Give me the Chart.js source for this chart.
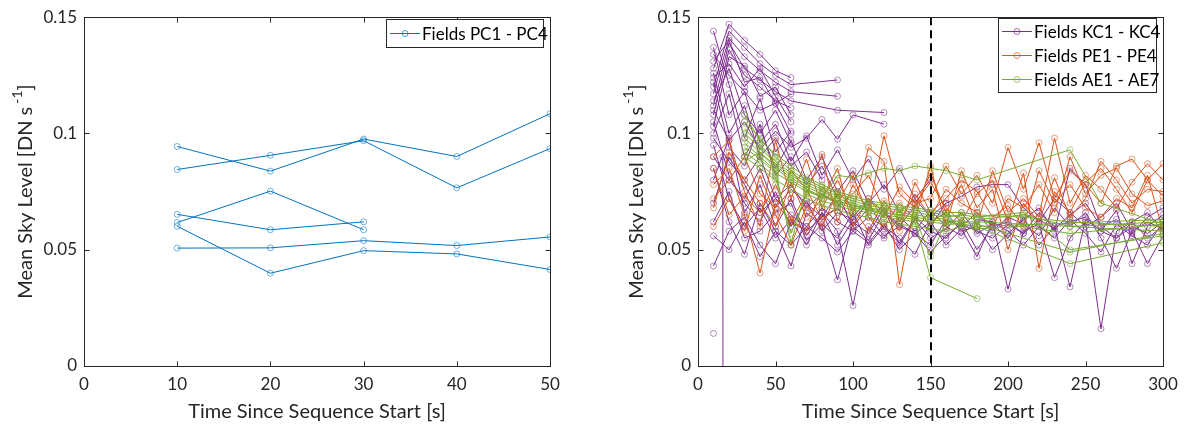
<!DOCTYPE html>
<html>
<head>
<meta charset="utf-8">
<script src="https://cdn.jsdelivr.net/npm/chart.js@4/dist/chart.umd.min.js"></script>
<style>
  html, body { margin: 0; padding: 0; background: #fff; }
  #wrap { position: relative; width: 1186px; height: 427px; }
  .pane { position: absolute; top: 0; width: 593px; height: 427px; }
</style>
</head>
<body>
<div id="wrap">
  <div class="pane" style="left:0"><canvas id="leftChart" width="593" height="427"></canvas></div>
  <div class="pane" style="left:593px"><canvas id="rightChart" width="593" height="427"></canvas></div>
</div>
<script>
const _ = null;

// ---- left panel: fields PC1 - PC4
const pcTimes = [10, 20, 30, 40, 50];
const pcA = [0.0944, 0.0838, 0.0976, 0.0901, 0.1085];
const pcB = [0.0845, 0.0906, 0.0969, 0.0766, 0.0935];
const pcC = [0.0617, 0.0752, 0.0586];
const pcD = [0.0652, 0.0586, 0.0620];
const pcE = [0.0601, 0.0399, 0.0496, 0.0482, 0.0415];
const pcF = [0.0507, 0.0508, 0.0539, 0.0518, 0.0555];
const leftXTicks = [0, 10, 20, 30, 40, 50];

// ---- right panel: fields KC, PE, AE
const rightTimes = [10, 20, 30, 40, 50, 60, 70, 80, 90, 100, 110, 120, 130, 140, 150,
  160, 170, 180, 190, 200, 210, 220, 230, 240, 250, 260, 270, 280, 290, 300];
const rightXTicks = [0, 50, 100, 150, 200, 250, 300];
const yTicks = [0, 0.05, 0.1, 0.15];

// KC1 - KC4 (purple)
const kc1 = [0.128, 0.147, 0.140, 0.134, 0.127, 0.124];
const kc2 = [0.120, 0.144, 0.137, 0.130, 0.125, 0.121, _, _, 0.123];
const kc3 = [0.117, 0.141, 0.133, 0.127, 0.122, 0.118, _, _, 0.116];
const kc4 = [0.112, 0.139, 0.128, 0.123, 0.118, 0.114, _, _, 0.110, _, _, 0.109];
const kc5 = [0.108, 0.136, 0.125, 0.120, 0.114, 0.111];
const kc6 = [0.103, 0.133, 0.129, 0.116, 0.120, 0.108];
const kc7 = [0.124, 0.130, 0.120, 0.128, 0.116, 0.105];
const kc8 = [0.134, 0.125, 0.118, 0.110, 0.113, 0.100];
const kc9 = [0.110, 0.097, 0.105, 0.093, 0.101, 0.094, 0.098, 0.106, 0.0975, 0.108, _, 0.104];
const kc10 = [0.144, 0.121, 0.098, 0.115, 0.092, 0.101];
const kc11 = [0.137, 0.108, 0.118, 0.096, 0.104, 0.088, 0.099, 0.082, 0.093, 0.080, 0.089, 0.076, 0.085, 0.072, 0.080];
const kc12 = [0.100, 0.117, 0.090, 0.102, 0.085, 0.097, 0.080, 0.090, 0.075, 0.084, 0.070, 0.078, 0.066, 0.072, 0.064, 0.070];
const kc13 = [0.095, 0.072, 0.060, 0.068, 0.055, 0.063, 0.052, 0.066, 0.058, 0.026, 0.060, 0.055, 0.064, 0.058, 0.067,
  0.060, 0.056, 0.063, 0.062, 0.033, 0.058, 0.061, 0.038, 0.055, 0.062, 0.016, 0.058, 0.062, 0.055, 0.060];
const kc14 = [0.085, 0.062, 0.048, 0.070, 0.058, 0.043, 0.066, 0.060, 0.037, 0.062, 0.057, 0.068, 0.052, 0.063, 0.055,
  0.059, 0.066, 0.057, 0.061, 0.055, 0.064, 0.052, 0.060, 0.034, 0.063, 0.058, 0.067, 0.044, 0.060, 0.065];
const kc15 = [0.043, 0.058, 0.064, 0.052, 0.044, 0.062, 0.058, 0.064, 0.068, 0.060, 0.054, 0.066, 0.061, 0.057, 0.052,
  0.063, 0.060, 0.066, 0.058, 0.064, 0.061, 0.056, 0.068, 0.060, 0.066, 0.055, 0.042, 0.058, 0.044, 0.056];
const kc16 = [0.105, 0.082, 0.070, 0.062, 0.075, 0.060, 0.071, 0.058, 0.066, 0.063, 0.070, 0.059, 0.053, 0.064, 0.058,
  0.055, 0.062, 0.050, 0.060, 0.062, 0.057, 0.063, 0.059, 0.065, 0.070, 0.060, 0.063, 0.057, 0.064, 0.068];
const kc17 = [0.070, 0.090, 0.078, 0.066, 0.072, 0.065, 0.060, 0.068, 0.062, 0.058, 0.064, 0.056, 0.060, 0.057, 0.049,
  0.056, 0.061, 0.058, 0.055, 0.061, 0.057, 0.066, 0.060, 0.062, 0.064, 0.058, 0.055, 0.060, 0.057, 0.062];
const kc18 = [0.062, 0.075, 0.055, 0.058, 0.066, 0.070, 0.054, 0.061, 0.055, 0.066, 0.052, 0.060, 0.055, 0.048, 0.062,
  0.066, 0.058, 0.060, 0.050, 0.057, 0.063, 0.068, 0.058, 0.085, 0.078, 0.060, 0.055, 0.062, 0.066, 0.058];
const kc19 = [0.098, 0.088, 0.080, 0.090, 0.072, 0.078, 0.068, 0.074, 0.070, 0.064, 0.072, 0.066, 0.060, 0.069, 0.060,
  0.070, 0.073, 0.077, 0.078, 0.078, 0.068, 0.062, 0.072, 0.066, 0.060, 0.064, 0.070, 0.058, 0.062, 0.059];
const kc20 = [0.056, 0.050, 0.062, 0.047, 0.058, 0.052, 0.060, 0.055, 0.049, 0.058, 0.053, 0.061, 0.050, 0.057, 0.062,
  0.052, 0.059, 0.047, 0.062, 0.058, 0.052, 0.060, 0.055, 0.063, 0.057, 0.049, 0.061, 0.056, 0.052, 0.062];
const kc21 = [0.126, 0.100, 0.112, 0.090, 0.098, 0.086, 0.092, 0.080];
const kc22 = [0.122, 0.094, 0.086, 0.104, 0.082, 0.090, 0.078, 0.086, 0.072];
const kc23 = [0.114, 0.128, 0.108, 0.100, 0.110, 0.096];
const kc24 = [0.090, 0.080, 0.072, 0.085, 0.068, 0.076, 0.070, 0.064, 0.074, 0.060, 0.068];
const kc25 = [0.080, 0.098, 0.066, 0.078, 0.060, 0.072, 0.056, 0.066, 0.052, 0.063];
const kc26 = [0.131, 0.140, 0.122, 0.124, 0.113, 0.117];
const kcDropTimes = [16, 16.4];
const kcDropValues = [0.09, -0.3];
const kcLoneTimes = [10];
const kcLoneValues = [0.014];

// PE1 - PE4 (orange)
const pe1 = [0.090, 0.097, 0.075, 0.060, 0.097, 0.072, 0.089, 0.068, 0.080, 0.066, 0.094, 0.088, 0.035, 0.070, 0.072,
  0.086, 0.074, 0.082, 0.070, 0.094, 0.076, 0.096, 0.072, 0.084, 0.078, 0.070, 0.086, 0.089, 0.080, 0.087];
const pe2 = [0.078, 0.085, 0.065, 0.040, 0.070, 0.062, 0.074, 0.091, 0.062, 0.078, 0.066, 0.099, 0.074, 0.068, 0.083,
  0.066, 0.078, 0.060, 0.084, 0.066, 0.072, 0.064, 0.098, 0.070, 0.082, 0.076, 0.068, 0.079, 0.087, 0.080];
const pe3 = [0.068, 0.092, 0.080, 0.070, 0.060, 0.079, 0.064, 0.072, 0.085, 0.060, 0.072, 0.064, 0.077, 0.070, 0.079,
  0.068, 0.062, 0.074, 0.080, 0.062, 0.083, 0.042, 0.075, 0.066, 0.079, 0.085, 0.076, 0.066, 0.080, 0.073];
const pe4 = [0.060, 0.072, 0.058, 0.082, 0.065, 0.052, 0.069, 0.060, 0.075, 0.068, 0.058, 0.071, 0.062, 0.074, 0.064,
  0.076, 0.070, 0.066, 0.060, 0.072, 0.068, 0.078, 0.066, 0.090, 0.074, 0.082, 0.085, 0.074, 0.069, 0.071];
const pe5 = [0.085, 0.065, 0.073, 0.066, 0.078, 0.063, 0.058, 0.077, 0.070, 0.082, 0.064, 0.060, 0.070, 0.063, 0.086,
  0.060, 0.084, 0.068, 0.076, 0.050, 0.070, 0.062, 0.081, 0.064, 0.072, 0.088, 0.080, 0.070, 0.076, 0.075];
const pe6 = [0.072, 0.080, 0.090, 0.074, 0.068, 0.084, 0.076, 0.063, 0.068, 0.074, 0.082, 0.067, 0.058, 0.079, 0.066,
  0.072, 0.080, 0.075, 0.064, 0.069, 0.060, 0.084, 0.070, 0.078, 0.068, 0.064, 0.072, 0.068, 0.082, 0.058];

// AE1 - AE7 (green)
const ae1 = [_, _, 0.105, 0.098, 0.090, 0.084, 0.080, 0.077, 0.074, 0.072, 0.070, 0.069, 0.068, 0.067, 0.066, 0.065, 0.064, 0.063,
  _, _, 0.065, _, _, 0.060, _, _, _, _, _, 0.062];
const ae2 = [_, _, 0.100, 0.094, 0.087, 0.082, 0.078, 0.075, 0.072, 0.070, 0.068, 0.067, 0.066, 0.065, 0.064, 0.063, 0.062, 0.062,
  _, _, _, _, _, _, _, _, _, _, _, 0.058];
const ae3 = [_, _, 0.096, 0.090, 0.084, 0.053, 0.076, 0.073, 0.071, 0.069, 0.067, 0.066, 0.065, 0.064, 0.047, 0.062, 0.061, 0.060,
  _, _, _, _, _, 0.044, _, _, _, _, _, 0.053];
const ae4 = [_, _, 0.092, 0.087, 0.081, 0.057, 0.074, 0.071, 0.069, 0.067, 0.066, 0.064, 0.063, 0.062, 0.038, _, _, 0.029];
const ae5 = [_, _, 0.088, 0.092, 0.085, 0.080, 0.076, 0.072, 0.082, 0.081, 0.083, 0.085, 0.084, 0.086, 0.085, 0.084, 0.082, 0.080,
  _, _, _, _, _, 0.093, _, 0.070, _, _, _, 0.061];
const ae6 = [_, _, 0.102, 0.095, 0.088, 0.083, 0.079, 0.076, 0.073, 0.071, 0.069, 0.068, 0.067, 0.066, 0.065, 0.064, 0.065, 0.064,
  _, _, 0.066, _, _, 0.050, _, _, _, _, _, 0.056];
const ae7 = [_, _, 0.094, 0.089, 0.083, 0.079, 0.075, 0.073, 0.070, 0.068, 0.067, 0.065, 0.064, 0.063, 0.062, 0.061, 0.061, 0.060,
  _, _, _, _, _, _, _, _, _, _, _, 0.063];
const ae8 = [_, _, 0.090, 0.085, 0.080, 0.076, 0.072, 0.069, 0.067, 0.065, 0.064, 0.062, 0.061, 0.060, 0.059, 0.058, 0.060, 0.059,
  _, _, 0.060, _, _, 0.057, _, _, _, _, _, 0.061];
const ae9 = [_, _, 0.108, 0.097, 0.091, 0.086, 0.081, 0.078, 0.075, 0.073, 0.071, 0.070, 0.069, 0.068, 0.067, 0.066, 0.066, 0.065,
  _, _, 0.064, _, _, 0.062, _, _, _, _, _, 0.060];
const ae10 = [_, _, 0.098, 0.092, 0.086, 0.081, 0.077, 0.074, 0.071, 0.069, 0.068, 0.066, 0.065, 0.064, 0.063, 0.062, 0.062, 0.061,
  _, _, _, _, _, 0.049, _, _, _, _, _, 0.057];

const BLUE = '#0072BD';
const PURPLE = '#7E2F8E';
const ORANGE = '#D95319';
const GREEN = '#77AC30';
const INK = '#262626';
const FONT = 'Lato, "Open Sans", sans-serif';

function series(times, vals, color) {
  return {
    data: vals.map((v, i) => ({ x: times[i], y: v })),
    borderColor: color,
    borderWidth: 1,
    pointRadius: 3,
    pointHoverRadius: 3,
    pointBorderWidth: 0.8,
    pointBorderColor: color + 'b0',
    pointBackgroundColor: 'rgba(0,0,0,0)',
    spanGaps: true,
    tension: 0
  };
}

function axes(xMax, xTicks, yWidth) {
  const tickFont = { family: FONT, size: 17 };
  return {
    x: {
      type: 'linear', min: 0, max: xMax,
      afterBuildTicks: s => { s.ticks = xTicks.map(v => ({ value: v })); },
      afterFit: s => { s.height = 61; },
      grid: { display: false, drawTicks: false },
      border: { display: false },
      ticks: { padding: 8, color: INK, font: tickFont, maxRotation: 0, autoSkip: false },
      title: { display: true, text: 'Time Since Sequence Start [s]', color: INK,
        font: { family: FONT, size: 20 }, padding: { top: 0, bottom: 3 } }
    },
    y: {
      type: 'linear', min: 0, max: 0.15,
      afterBuildTicks: s => { s.ticks = yTicks.map(v => ({ value: v })); },
      afterFit: s => { s.width = yWidth; },
      grid: { display: false, drawTicks: false },
      border: { display: false },
      ticks: { padding: 7, color: INK, font: tickFont,
        callback: v => v === 0 ? '0' : String(Math.round(v * 100) / 100) }
    }
  };
}

function line(ctx, x1, y1, x2, y2) {
  ctx.beginPath(); ctx.moveTo(x1, y1); ctx.lineTo(x2, y2); ctx.stroke();
}

const framePlugin = {
  id: 'frame',
  afterDatasetsDraw(chart, args, o) {
    if (o.dashAt == null) return;
    const { ctx, chartArea: a, scales: { x } } = chart;
    const px = Math.round(x.getPixelForValue(o.dashAt));
    ctx.save();
    ctx.strokeStyle = '#000';
    ctx.lineWidth = 2;
    ctx.setLineDash([8, 5]);
    line(ctx, px, a.top, px, a.bottom);
    ctx.restore();
  },
  afterDraw(chart, args, o) {
    const { ctx, chartArea: a, scales: { x, y } } = chart;
    const L = Math.round(a.left) + 0.5, R = Math.round(a.right) + 0.5;
    const T = Math.round(a.top) + 0.5, B = Math.round(a.bottom) + 0.5;
    ctx.save();
    ctx.strokeStyle = INK;
    ctx.lineWidth = 1;
    ctx.strokeRect(L, T, R - L, B - T);
    const len = 5;
    x.ticks.forEach(t => {
      const px = Math.round(x.getPixelForValue(t.value)) + 0.5;
      line(ctx, px, B, px, B - len);
      line(ctx, px, T, px, T + len);
    });
    y.ticks.forEach(t => {
      const py = Math.round(y.getPixelForValue(t.value)) + 0.5;
      line(ctx, L, py, L + len, py);
      line(ctx, R, py, R - len, py);
    });

    // legend box
    const lg = o.legend;
    ctx.fillStyle = '#fff';
    ctx.fillRect(lg.x, lg.y, lg.w, lg.h);
    ctx.strokeStyle = INK;
    ctx.strokeRect(lg.x + 0.5, lg.y + 0.5, lg.w, lg.h);
    ctx.font = `17px ${FONT}`;
    ctx.textBaseline = 'middle';
    lg.items.forEach((it, i) => {
      const cy = Math.round(lg.y + lg.first + i * lg.gap) + 0.5;
      ctx.strokeStyle = it.color;
      ctx.lineWidth = 1;
      line(ctx, lg.x + 4, cy, lg.x + 34, cy);
      ctx.strokeStyle = it.color + 'b0';
      ctx.beginPath(); ctx.arc(lg.x + 19, cy, 3, 0, Math.PI * 2); ctx.stroke();
      ctx.fillStyle = '#000';
      ctx.fillText(it.text, lg.x + 36, cy + 1);
    });

    // y axis title with superscript
    ctx.translate(o.titleX, (a.top + a.bottom) / 2);
    ctx.rotate(-Math.PI / 2);
    ctx.fillStyle = INK;
    ctx.textBaseline = 'middle';
    const main = 'Mean Sky Level [DN s', sup = '-1', end = ']';
    ctx.font = `20px ${FONT}`;
    const w1 = ctx.measureText(main).width, w3 = ctx.measureText(end).width;
    ctx.font = `14px ${FONT}`;
    const w2 = ctx.measureText(sup).width;
    let sx = -(w1 + 3 + w2 + w3) / 2;
    ctx.font = `20px ${FONT}`;
    ctx.fillText(main, sx, 0);
    sx += w1 + 3;
    ctx.font = `14px ${FONT}`;
    ctx.fillText(sup, sx, -9);
    sx += w2;
    ctx.font = `20px ${FONT}`;
    ctx.fillText(end, sx, 0);
    ctx.restore();
  }
};

function baseOptions(xMax, xTicks, yWidth, padRight, frame) {
  return {
    responsive: false,
    animation: false,
    devicePixelRatio: 1,
    events: [],
    layout: { padding: { left: 0, top: 12, right: padRight, bottom: 0 } },
    plugins: { legend: { display: false }, tooltip: { enabled: false }, frame: frame },
    scales: axes(xMax, xTicks, yWidth)
  };
}

new Chart(document.getElementById('leftChart'), {
  type: 'line',
  data: { datasets: [pcA, pcB, pcC, pcD, pcE, pcF].map(v => series(pcTimes, v, BLUE)) },
  options: baseOptions(50, leftXTicks, 84, 43, {
    titleX: 26,
    legend: { x: 386, y: 19, w: 157, h: 28, first: 14, gap: 24,
      items: [{ text: 'Fields PC1 - PC4', color: BLUE }] }
  }),
  plugins: [framePlugin]
});

const greenSets = [ae1, ae2, ae3, ae4, ae5, ae6, ae7, ae8, ae9, ae10].map(v => series(rightTimes, v, GREEN));
const orangeSets = [pe1, pe2, pe3, pe4, pe5, pe6].map(v => series(rightTimes, v, ORANGE));
const purpleSets = [kc1, kc2, kc3, kc4, kc5, kc6, kc7, kc8, kc9, kc10, kc11, kc12, kc13, kc14,
  kc15, kc16, kc17, kc18, kc19, kc20, kc21, kc22, kc23, kc24, kc25, kc26].map(v => series(rightTimes, v, PURPLE));
purpleSets.push(series(kcDropTimes, kcDropValues, PURPLE));
purpleSets.push(series(kcLoneTimes, kcLoneValues, PURPLE));

new Chart(document.getElementById('rightChart'), {
  type: 'line',
  data: { datasets: [...greenSets, ...orangeSets, ...purpleSets] },
  options: baseOptions(300, rightXTicks, 105, 23, {
    titleX: 44,
    dashAt: 150,
    legend: { x: 405, y: 18, w: 158, h: 74, first: 13, gap: 24,
      items: [
        { text: 'Fields KC1 - KC4', color: PURPLE },
        { text: 'Fields PE1 - PE4', color: ORANGE },
        { text: 'Fields AE1 - AE7', color: GREEN }
      ] }
  }),
  plugins: [framePlugin]
});
</script>
</body>
</html>
